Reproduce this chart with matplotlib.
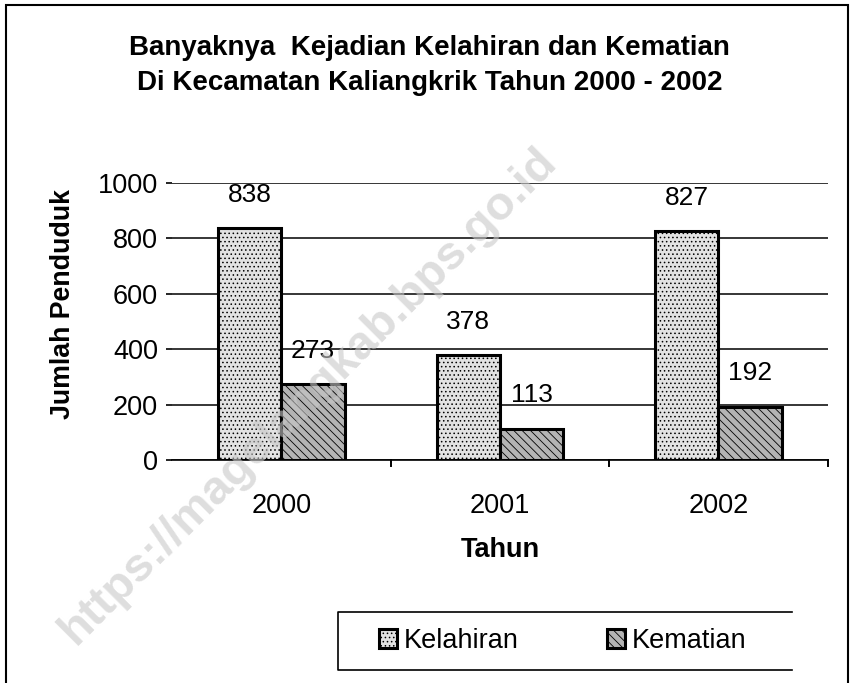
import numpy as np
import matplotlib
matplotlib.use("Agg")
import matplotlib.pyplot as plt
from matplotlib.patches import Rectangle
from matplotlib.lines import Line2D

plt.rcParams['font.family'] = ['Liberation Sans', 'DejaVu Sans']
plt.rcParams['hatch.linewidth'] = 0.6

# data
tahun = ["2000", "2001", "2002"]
kelahiran = [838, 378, 827]
kematian = [273, 113, 192]
series_names = ["Kelahiran", "Kematian"]

fig = plt.figure(figsize=(8.56, 6.83), dpi=100)
ax = fig.add_axes([0.201, 0.3265, 0.766, 0.4055])

x = np.arange(len(tahun))
w = 0.29
b1 = ax.bar(x - w / 2, kelahiran, w, color="#e2e2e2", edgecolor="black",
            linewidth=2.2, hatch="....", label=series_names[0], zorder=3)
b2 = ax.bar(x + w / 2, kematian, w, color="#b4b4b4", edgecolor="black",
            linewidth=2.2, hatch="\\\\\\\\", label=series_names[1], zorder=3)

# label angka di atas batang
for bars in (b1, b2):
    for r in bars:
        ax.annotate(f"{int(r.get_height())}",
                    (r.get_x() + r.get_width() / 2, r.get_height()),
                    xytext=(0, 24), textcoords="offset points",
                    ha="center", va="center", fontsize=19)

ax.set_xlim(-0.5, 2.5)
ax.set_ylim(0, 1000)
ax.set_yticks(range(0, 1001, 200))
ax.set_xticks(x)
ax.set_xticklabels(tahun, fontsize=19.5)
ax.tick_params(axis="y", labelsize=19.5, length=4, width=1.2, pad=6)
ax.tick_params(axis="x", length=0, pad=24)
ax.yaxis.grid(True, color="black", linewidth=1.1, zorder=0)
ax.set_axisbelow(True)
for s in ("left", "right", "top"):
    ax.spines[s].set_visible(False)
ax.spines["bottom"].set_linewidth(1.2)

# tick pemisah antar kelompok
for xb in (0.5, 1.5, 2.5):
    ax.plot([xb, xb], [0, -0.022], transform=ax.get_xaxis_transform(),
            color="black", lw=1.4, clip_on=False)

ax.set_ylabel("Jumlah Penduduk", fontsize=19.3, fontweight="bold")
ax.yaxis.set_label_coords(-0.147, 0.563)
ax.set_xlabel("Tahun", fontsize=19.5, fontweight="bold", labelpad=13)

fig.text(0.502, 0.93, "Banyaknya  Kejadian Kelahiran dan Kematian",
         ha="center", va="center", fontsize=20, fontweight="bold")
fig.text(0.502, 0.878, "Di Kecamatan Kaliangkrik Tahun 2000 - 2002",
         ha="center", va="center", fontsize=20, fontweight="bold")

# legenda ala Excel: isi rata kiri, kotak lebih lebar
leg = fig.legend(handles=[b1, b2], labels=series_names, loc="center left",
                 bbox_to_anchor=(379 / 856, 1 - 641 / 683), ncol=2,
                 fontsize=19.5, frameon=False,
                 handlelength=0.66, handleheight=0.66, handletextpad=0.26,
                 columnspacing=3.25, borderpad=0, borderaxespad=0)
# kotak legenda (sisi kanan tidak tampak di gambar asli)
lx0, lx1, ly0, ly1 = 338 / 856, 792 / 856, 1 - 670 / 683, 1 - 612 / 683
fig.add_artist(Line2D([lx1, lx0, lx0, lx1], [ly1, ly1, ly0, ly0],
                      transform=fig.transFigure, color="black", lw=1.2))

# garis tepi bingkai
fig.patches.append(Rectangle((6 / 856, -0.01), 842 / 856, 1 - 5 / 683 + 0.01,
                             transform=fig.transFigure, fill=False,
                             edgecolor="black", linewidth=1.5))

# watermark
fig.text(0.36, 0.42, "https://magelangkab.bps.go.id", rotation=45,
         ha="center", va="center", fontsize=34, fontweight="bold",
         color="#c8c8c8", alpha=0.6, zorder=10)

fig.savefig("out.png", dpi=100)
